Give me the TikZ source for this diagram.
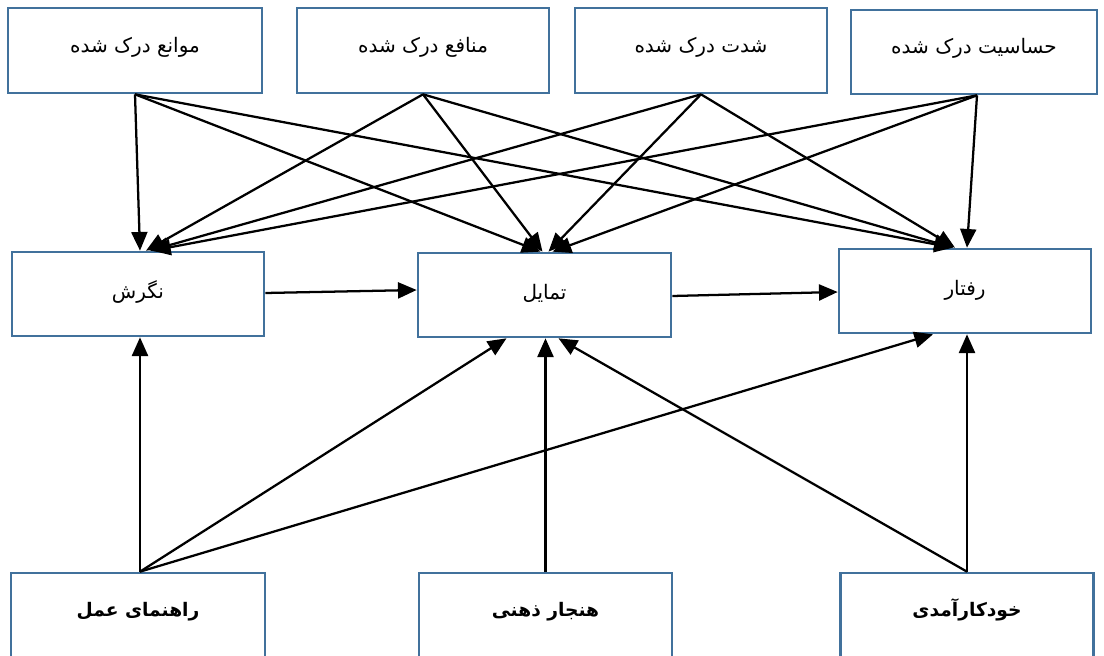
\documentclass[tikz,border=0pt]{standalone}
\usepackage{fontspec}
\TeXXeTstate=1
\newfontfamily\arabicfont[Script=Arabic]{DejaVu Sans}
\usetikzlibrary{arrows.meta,calc}
\definecolor{boxblue}{RGB}{65,113,156}
\begin{document}
\begin{tikzpicture}[x=0.75pt,y=-0.75pt,
  box/.style={draw=boxblue,line width=2pt,fill=white,inner sep=0pt,
    font=\arabicfont\fontsize{15}{18}\selectfont,text height=13pt,text depth=10pt},
  midbox/.style={box,text height=17pt},
  sz/.style 2 args={minimum width=#1*0.75pt,minimum height=#2*0.75pt},
  lowbox/.style={box,text height=10pt,font=\arabicfont\bfseries\fontsize{14}{17}\selectfont},
  conn/.style={line width=1.7pt,-{Triangle[length=14pt,width=12pt]}}]
\useasboundingbox (0,0) rectangle (1104,656);
\clip (0,0) rectangle (1104,656);
% top row
\node[box,sz={254}{85}] (t1) at (135,50.5) {\beginR موانع درک شده\endR};
\node[box,sz={252}{85}] (t2) at (423,50.5) {\beginR منافع درک شده\endR};
\node[box,sz={252}{85}] (t3) at (701,50.5) {\beginR شدت درک شده\endR};
\node[box,sz={246}{84}] (t4) at (974,52) {\beginR حساسیت درک شده\endR};
% middle row
\node[midbox,sz={252}{84}] (m1) at (138,294) {\beginR نگرش\endR};
\node[midbox,sz={253}{84}] (m2) at (544.5,295) {\beginR تمایل\endR};
\node[midbox,sz={252}{84}] (m3) at (965,291) {\beginR رفتار\endR};
% bottom row
\node[lowbox,sz={254}{86}] (l1) at (138,616) {\beginR راهنمای عمل\endR};
\node[lowbox,sz={253}{86}] (l2) at (545.5,616) {\beginR هنجار ذهنی\endR};
\node[lowbox,sz={253}{86}] (l3) at (967,616) {\beginR خودکارآمدی\endR};
% top to middle
\draw[conn] (t1.south) -- ($(m1.north)+(2,0)$);
\draw[conn] (t1.south) -- ($(m2.north)+(-4,0)$);
\draw[conn] (t1.south) -- ($(m3.north)+(-12,0)$);
\draw[conn] (t2.south) -- ($(m1.north)+(8,0)$);
\draw[conn] (t2.south) -- ($(m2.north)+(-2,0)$);
\draw[conn] (t2.south) -- ($(m3.north)+(-12,0)$);
\draw[conn] (t3.south) -- ($(m1.north)+(12,0)$);
\draw[conn] (t3.south) -- ($(m2.north)+(4,0)$);
\draw[conn] (t3.south) -- ($(m3.north)+(-10,0)$);
\draw[conn] ($(t4.south)+(3,0)$) -- ($(m1.north)+(14,0)$);
\draw[conn] ($(t4.south)+(3,0)$) -- ($(m2.north)+(8,0)$);
\draw[conn] ($(t4.south)+(3,0)$) -- ($(m3.north)+(2,0)$);
% middle row
\draw[conn] ($(m1.east)+(0,-1)$) -- ($(m2.west)+(0,-5)$);
\draw[conn] ($(m2.east)+(0,1)$) -- ($(m3.west)+(0,1)$);
% bottom to middle
\draw[conn] ($(l1.north)+(2,0)$) -- ($(m1.south)+(2,0)$);
\draw[conn] ($(l1.north)+(2,0)$) -- ($(m2.south)+(-38,0)$);
\draw[conn] ($(l1.north)+(2,0)$) -- ($(m3.south)+(-32,0)$);
\draw[conn] (l2.north) -- ($(m2.south)+(1,0)$);
\draw[conn] (l3.north) -- ($(m2.south)+(14,0)$);
\draw[conn] (l3.north) -- ($(m3.south)+(2,0)$);
\end{tikzpicture}
\end{document}
